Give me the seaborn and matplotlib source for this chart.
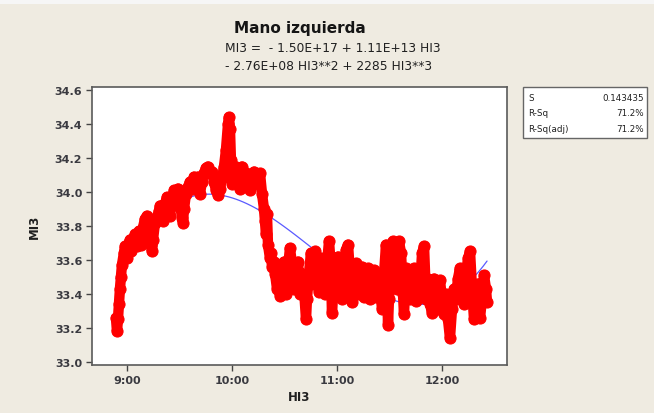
import numpy as np
import pandas as pd
import seaborn as sns
import matplotlib.pyplot as plt
from matplotlib.patches import Rectangle

# HI3: hora (decimal), MI3: temperatura mano izquierda
hi3 = [8.895, 8.905, 8.914, 8.924, 8.933, 8.943, 8.952, 8.971, 8.981, 9.000,
       9.010, 9.029, 9.038, 9.057, 9.076, 9.095, 9.114, 9.133, 9.152, 9.171,
       9.190, 9.210, 9.219, 9.229, 9.238, 9.248, 9.267, 9.286, 9.305, 9.314,
       9.333, 9.343, 9.362, 9.381, 9.400, 9.410, 9.429, 9.448, 9.467, 9.486,
       9.505, 9.524, 9.533, 9.543, 9.562, 9.581, 9.600, 9.619, 9.638, 9.657,
       9.676, 9.695, 9.714, 9.733, 9.752, 9.771, 9.790, 9.810, 9.829, 9.848,
       9.867, 9.886, 9.905, 9.924, 9.943, 9.962, 9.971, 9.981, 9.990, 10.000,
       10.019, 10.038, 10.057, 10.076, 10.095, 10.114, 10.133, 10.152, 10.171, 10.190,
       10.210, 10.229, 10.248, 10.267, 10.286, 10.305, 10.314, 10.324, 10.333, 10.343,
       10.362, 10.371, 10.381, 10.400, 10.410, 10.429, 10.438, 10.457, 10.476, 10.495,
       10.514, 10.533, 10.552, 10.571, 10.590, 10.610, 10.629, 10.648, 10.667, 10.686,
       10.705, 10.714, 10.733, 10.752, 10.771, 10.790, 10.810, 10.829, 10.848, 10.867,
       10.886, 10.905, 10.924, 10.943, 10.952, 10.971, 10.990, 11.010, 11.029, 11.048,
       11.067, 11.086, 11.105, 11.124, 11.143, 11.162, 11.181, 11.200, 11.219, 11.238,
       11.257, 11.276, 11.295, 11.314, 11.333, 11.352, 11.371, 11.390, 11.410, 11.429,
       11.448, 11.467, 11.486, 11.495, 11.514, 11.533, 11.552, 11.571, 11.590, 11.610,
       11.629, 11.638, 11.657, 11.676, 11.695, 11.714, 11.733, 11.752, 11.771, 11.790,
       11.810, 11.829, 11.848, 11.867, 11.886, 11.905, 11.924, 11.943, 11.962, 11.981,
       12.000, 12.019, 12.038, 12.057, 12.076, 12.095, 12.114, 12.133, 12.152, 12.171,
       12.190, 12.210, 12.229, 12.248, 12.267, 12.286, 12.305, 12.324, 12.343, 12.362,
       12.381, 12.400, 12.419, 12.429]
mi3 = [33.26, 33.18, 33.25, 33.34, 33.43, 33.50, 33.57, 33.64, 33.68, 33.61,
       33.69, 33.72, 33.65, 33.72, 33.75, 33.68, 33.77, 33.69, 33.79, 33.84,
       33.86, 33.81, 33.77, 33.69, 33.65, 33.72, 33.82, 33.85, 33.89, 33.92,
       33.87, 33.83, 33.93, 33.97, 33.90, 33.86, 33.96, 34.01, 33.98, 34.02,
       33.93, 33.85, 33.82, 33.90, 33.99, 34.03, 34.06, 34.02, 34.09, 34.06,
       34.09, 33.99, 34.06, 34.11, 34.14, 34.15, 34.11, 34.12, 34.06, 34.01,
       33.98, 34.02, 34.08, 34.15, 34.25, 34.40, 34.44, 34.37, 34.19, 34.05,
       34.09, 34.15, 34.11, 34.02, 34.15, 34.06, 34.11, 34.05, 34.01, 34.08,
       34.12, 34.09, 34.05, 34.11, 33.99, 33.90, 33.83, 33.75, 33.87, 33.69,
       33.61, 33.64, 33.56, 33.59, 33.52, 33.43, 33.48, 33.39, 33.55, 33.59,
       33.40, 33.55, 33.67, 33.58, 33.43, 33.54, 33.59, 33.40, 33.52, 33.43,
       33.25, 33.37, 33.52, 33.64, 33.46, 33.65, 33.55, 33.41, 33.61, 33.49,
       33.40, 33.58, 33.71, 33.55, 33.29, 33.46, 33.56, 33.62, 33.43, 33.37,
       33.55, 33.66, 33.69, 33.52, 33.35, 33.49, 33.58, 33.40, 33.54, 33.56,
       33.38, 33.52, 33.55, 33.37, 33.46, 33.54, 33.38, 33.49, 33.43, 33.31,
       33.52, 33.69, 33.22, 33.37, 33.66, 33.71, 33.61, 33.43, 33.71, 33.64,
       33.40, 33.28, 33.55, 33.52, 33.37, 33.46, 33.55, 33.36, 33.49, 33.43,
       33.64, 33.68, 33.37, 33.49, 33.34, 33.29, 33.49, 33.43, 33.31, 33.48,
       33.37, 33.28, 33.40, 33.25, 33.14, 33.31, 33.43, 33.37, 33.49, 33.55,
       33.40, 33.34, 33.52, 33.61, 33.65, 33.43, 33.25, 33.37, 33.46, 33.26,
       33.37, 33.51, 33.43, 33.35]

hour_ticks = [9, 10, 11, 12]
hour_labels = ["9:00", "10:00", "11:00", "12:00"]
temp_ticks = [33.0, 33.2, 33.4, 33.6, 33.8, 34.0, 34.2, 34.4, 34.6]

stat_names = ["S", "R-Sq", "R-Sq(adj)"]
stat_values = ["0.143435", "71.2%", "71.2%"]

df = pd.DataFrame({"HI3": hi3, "MI3": mi3})

sns.set_style("white")
plt.rcParams["font.family"] = ["DejaVu Sans"]

W, H = 654, 414
fig = plt.figure(figsize=(W / 100, H / 100), dpi=100, facecolor="#efebe1")
# franja clara arriba (captura)
fig.patches.append(Rectangle((0, 1 - 5 / H), 1, 5 / H, transform=fig.transFigure,
                             facecolor="#f6f6f6", edgecolor="none", zorder=0))

ax = fig.add_axes([92 / W, 1 - 366 / H, (507 - 92) / W, (366 - 88) / H])
ax.set_facecolor("white")

# ajuste cubico debajo de los puntos, como en Minitab
sns.regplot(data=df, x="HI3", y="MI3", ax=ax, order=3, ci=None, scatter=False,
            line_kws=dict(color="#5a5aff", lw=0.9, zorder=2))
sns.lineplot(data=df, x="HI3", y="MI3", ax=ax, estimator=None, sort=False,
             color="red", lw=7.5, marker="o", markersize=8,
             markeredgecolor="red", solid_joinstyle="round",
             solid_capstyle="round", zorder=3)

ax.set_xlim(8.667, 12.619)
ax.set_ylim(32.982, 34.618)
ax.set_xticks(hour_ticks)
ax.set_xticklabels(hour_labels)
ax.set_yticks(temp_ticks)
ax.set_yticklabels([f"{t:.1f}" for t in temp_ticks])
ax.tick_params(direction="out", length=4, width=1, color="#444444",
               labelsize=8, labelcolor="#3a3a40", left=True, bottom=True, pad=3)
for lab in ax.get_xticklabels() + ax.get_yticklabels():
    lab.set_fontweight("bold")
for sp in ax.spines.values():
    sp.set_visible(True)
    sp.set_color("#5a5a5a")
    sp.set_linewidth(1.2)

ax.set_xlabel("HI3", fontsize=8.5, fontweight="bold", color="#202020", labelpad=4)
ax.set_ylabel("MI3", fontsize=8.5, fontweight="bold", color="#202020", labelpad=10)

# titulo y ecuacion
fig.text(299.5 / W, 1 - 29 / H, "Mano izquierda", ha="center", va="center",
         fontsize=11, fontweight="bold", color="#151515")
fig.text(225 / W, 1 - 48 / H, "MI3 =  - 1.50E+17 + 1.11E+13 HI3", ha="left",
         va="center", fontsize=8.8, color="#202020")
fig.text(225 / W, 1 - 67 / H, "- 2.76E+08 HI3**2 + 2285 HI3**3", ha="left",
         va="center", fontsize=8.8, color="#202020")

# cuadro de estadisticos
fig.patches.append(Rectangle((523 / W, 1 - 139 / H), 124 / W, 51 / H,
                             transform=fig.transFigure, facecolor="white",
                             edgecolor="#666666", lw=1, zorder=1))
for name, val, yy in zip(stat_names, stat_values, [99, 114, 129]):
    fig.text(528 / W, 1 - yy / H, name, ha="left", va="center",
             fontsize=6.3, color="#202020", zorder=2)
    fig.text(644 / W, 1 - yy / H, val, ha="right", va="center",
             fontsize=6.3, color="#202020", zorder=2)

fig.savefig("out.png", dpi=100, facecolor=fig.get_facecolor())
